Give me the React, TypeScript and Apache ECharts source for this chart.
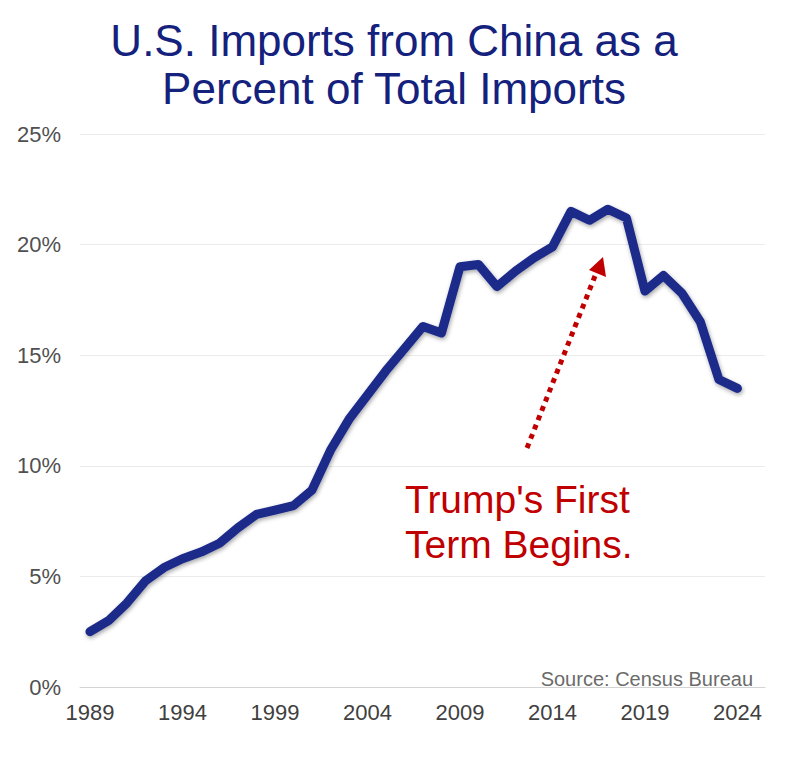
import React, { useEffect, useRef } from "react";
import * as echarts from "echarts";

const years: number[] = [
  1989, 1990, 1991, 1992, 1993, 1994, 1995, 1996, 1997, 1998, 1999, 2000,
  2001, 2002, 2003, 2004, 2005, 2006, 2007, 2008, 2009, 2010, 2011, 2012,
  2013, 2014, 2015, 2016, 2017, 2018, 2019, 2020, 2021, 2022, 2023, 2024,
];
const sharePct: number[] = [
  2.5, 3.0, 3.8, 4.8, 5.4, 5.8, 6.1, 6.5, 7.2, 7.8, 8.0, 8.2,
  8.9, 10.7, 12.1, 13.2, 14.3, 15.3, 16.3, 16.0, 19.0, 19.1, 18.1, 18.8,
  19.4, 19.9, 21.5, 21.1, 21.6, 21.2, 17.9, 18.6, 17.8, 16.5, 13.9, 13.5,
];
const xTickYears: number[] = [1989, 1994, 1999, 2004, 2009, 2014, 2019, 2024];
const titleLines: string[] = ["U.S. Imports from China as a", "Percent of Total Imports"];
const noteLines: string[] = ["Trump's First", "Term Begins."];
const sourceText = "Source: Census Bureau";

const FONT = "'Liberation Sans', Arial, Helvetica, sans-serif";

export default function App() {
  const ref = useRef<HTMLDivElement>(null);
  useEffect(() => {
    if (!ref.current) return;
    const chart = echarts.init(ref.current, null, { renderer: "svg" });
    const red = "#c00000";
    chart.setOption({
      animation: false,
      backgroundColor: "#ffffff",
      grid: { left: 80, right: 35, top: 134, bottom: 77, containLabel: false },
      xAxis: {
        type: "value",
        min: 1988.46,
        max: 2025.49,
        axisLine: { show: true, lineStyle: { color: "#d4d4d4", width: 1 } },
        axisTick: { show: false },
        splitLine: { show: false },
        axisLabel: {
          customValues: xTickYears,
          formatter: (v: number) => String(Math.round(v)),
          color: "#404040",
          fontSize: 22,
          fontFamily: FONT,
          margin: 14,
        },
      },
      yAxis: {
        type: "value",
        min: 0,
        max: 25,
        interval: 5,
        axisLine: { show: false },
        axisTick: { show: false },
        splitLine: { show: true, lineStyle: { color: "#ebebeb", width: 1 } },
        axisLabel: {
          formatter: (v: number) => v + "%",
          color: "#505050",
          fontSize: 22,
          fontFamily: FONT,
          margin: 19,
        },
      },
      series: [
        {
          type: "line",
          data: years.map((y, i) => [y, sharePct[i]]),
          showSymbol: false,
          symbol: "none",
          lineStyle: {
            color: "#1c2a8a",
            width: 9,
            cap: "round",
            join: "round",
            shadowColor: "rgba(0,0,0,0.35)",
            shadowBlur: 4,
            shadowOffsetX: 1,
            shadowOffsetY: 2,
          },
          z: 3,
        },
      ],
      graphic: [
        {
          type: "text",
          x: 394,
          y: 40,
          style: {
            text: titleLines[0],
            fill: "#14217d",
            font: `44px ${FONT}`,
            textAlign: "center",
            textVerticalAlign: "middle",
          },
        },
        {
          type: "text",
          x: 394,
          y: 88,
          style: {
            text: titleLines[1],
            fill: "#14217d",
            font: `44px ${FONT}`,
            textAlign: "center",
            textVerticalAlign: "middle",
          },
        },
        {
          type: "text",
          x: 405,
          y: 499,
          style: {
            text: noteLines[0],
            fill: red,
            font: `39px ${FONT}`,
            textAlign: "left",
            textVerticalAlign: "middle",
          },
        },
        {
          type: "text",
          x: 405,
          y: 544,
          style: {
            text: noteLines[1],
            fill: red,
            font: `39px ${FONT}`,
            textAlign: "left",
            textVerticalAlign: "middle",
          },
        },
        {
          type: "text",
          x: 753,
          y: 679,
          style: {
            text: sourceText,
            fill: "#6b6b6b",
            font: `20px ${FONT}`,
            textAlign: "right",
            textVerticalAlign: "middle",
          },
        },
        {
          type: "line",
          shape: { x1: 527, y1: 448, x2: 595, y2: 276 },
          style: { stroke: red, lineWidth: 5, lineDash: [5, 5] },
          z: 5,
        },
        {
          type: "polygon",
          shape: { points: [[603, 257], [606, 277], [589, 270]] },
          style: { fill: red },
          z: 5,
        },
      ],
    });
    return () => chart.dispose();
  }, []);
  return (
    <div
      ref={ref}
      style={{ position: "fixed", left: 0, top: 0, width: 800, height: 764, background: "#fff" }}
    />
  );
}
